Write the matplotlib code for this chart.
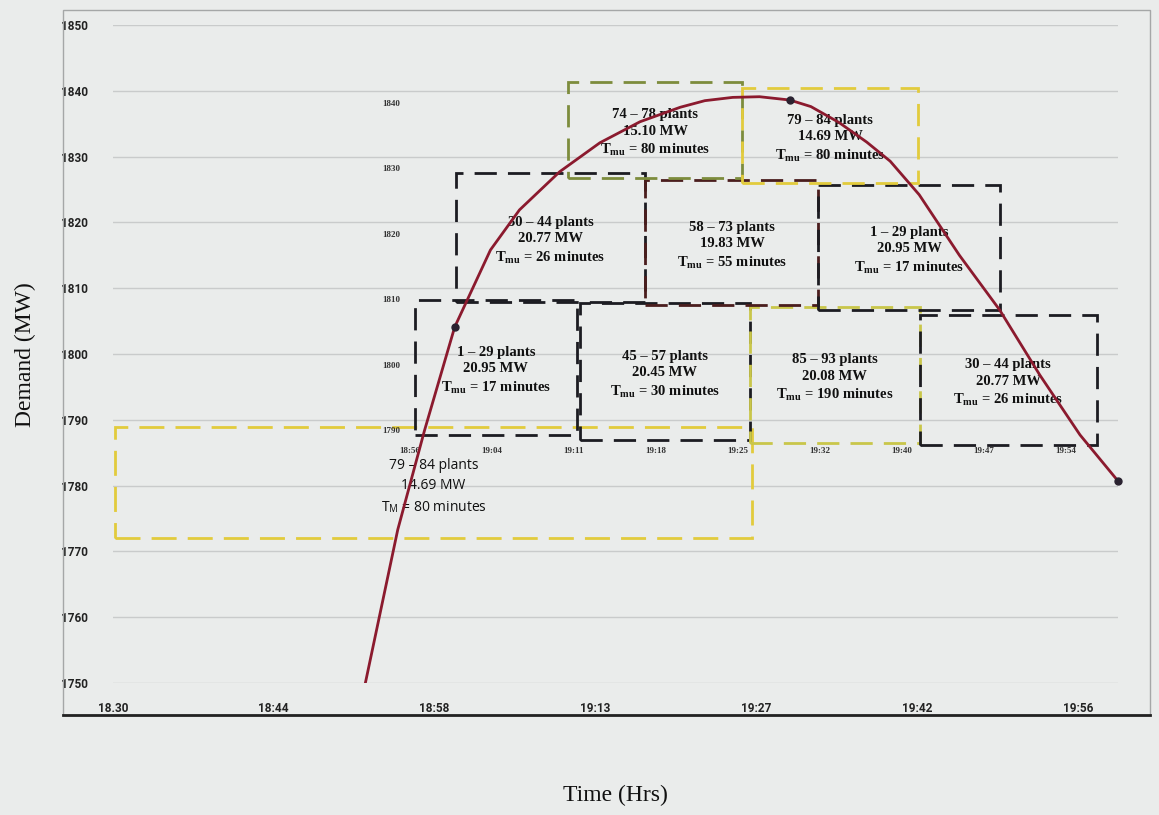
import matplotlib.pyplot as plt
from matplotlib.patches import Rectangle

plt.rcParams['mathtext.fontset'] = 'stix'

# main curve: minutes after 18:00 vs demand (MW)
TIME_MIN = [52.6, 55.5, 57.9, 60.6, 63.8, 66.4, 70.0, 73.6, 77.2, 80.8, 83.0, 85.5,
            87.9, 90.6, 92.5, 95.0, 97.5, 99.6, 102.2, 105.8, 109.4, 113.0, 116.6, 120.0]
DEMAND = [1750, 1773.3, 1788.4, 1804.1, 1815.8, 1821.9, 1827.7, 1832.1, 1835.3, 1837.5, 1838.5, 1839.0,
          1839.1, 1838.6, 1837.6, 1835.2, 1832.2, 1829.3, 1824.2, 1815.0, 1806.7, 1796.8, 1787.7, 1780.7]
MARKER_TIME = [60.6, 90.6, 120.0]
MARKER_DEMAND = [1804.1, 1838.6, 1780.7]

MAIN_XTICKS = [30, 44.4, 58.8, 73.2, 87.6, 102.0, 116.4]
MAIN_XLABELS = ['18.30', '18:44', '18:58', '19:13', '19:27', '19:42', '19:56']
MAIN_YTICKS = [1750, 1760, 1770, 1780, 1790, 1800, 1810, 1820, 1830, 1840, 1850]

# overlaid (zoomed) chart ticks
INSET_XTICKS = [56.9, 64.1, 71.3, 78.5, 85.7, 92.9, 100.1, 107.3, 114.5]
INSET_XLABELS = ['18:56', '19:04', '19:11', '19:18', '19:25', '19:32', '19:40', '19:47', '19:54']
INSET_YTICKS = [1790, 1800, 1810, 1820, 1830, 1840]

# plant group boxes (inset coordinates)
BOX_T0 = [57.3, 71.8, 86.8, 101.7, 60.9, 77.6, 92.8, 70.8, 86.1]
BOX_T1 = [71.6, 86.8, 101.7, 117.3, 77.6, 92.8, 108.8, 86.1, 101.6]
BOX_D0 = [1789.2, 1788.5, 1788.0, 1787.7, 1809.6, 1809.1, 1808.3, 1828.5, 1827.8]
BOX_D1 = [1809.9, 1809.4, 1808.8, 1807.6, 1829.3, 1828.2, 1827.5, 1843.2, 1842.3]
BOX_PLANTS = ['1 – 29', '45 – 57', '85 – 93', '30 – 44', '30 – 44', '58 – 73', '1 – 29', '74 – 78', '79 – 84']
BOX_MW = ['20.95', '20.45', '20.08', '20.77', '20.77', '19.83', '20.95', '15.10', '14.69']
BOX_TMU = ['17', '30', '190', '26', '26', '55', '17', '80', '80']
BOX_COLORS = ['#1c1c22', '#1c1c22', '#c9c64a', '#1c1c22', '#1c1c22', '#4a1d1d', '#1c1c22', '#7d8c3c', '#e2cb3c']

# big box in main coordinates
BIG_T = [30.2, 87.2]
BIG_D = [1772.0, 1788.9]
BIG_TEXT = ['79 – 84', '14.69', '80']

MAIN_RECT = [113 / 1159, 1 - 683 / 815, 1005 / 1159, 658 / 815]

fig = plt.figure(figsize=(11.59, 8.15), dpi=100)
fig.patch.set_facecolor('#eaeceb')

# chart border
fig.patches.append(Rectangle((63 / 1159, 1 - 715 / 815), 1087 / 1159, 705 / 815,
                             transform=fig.transFigure, fill=False,
                             edgecolor='#a5a7a7', linewidth=1.0))
fig.add_artist(plt.Line2D([63 / 1159, 1150 / 1159], [1 - 715 / 815, 1 - 715 / 815],
                          transform=fig.transFigure, color='#222222', linewidth=2))

ax = fig.add_axes(MAIN_RECT, zorder=1)
ax.patch.set_alpha(0)
ax2 = fig.add_axes([405.5 / 1159, 1 - 443 / 815, 710.9 / 1159, 372.7 / 815], zorder=2)
ax2.patch.set_alpha(0)
ax3 = fig.add_axes(MAIN_RECT, zorder=3)
ax3.patch.set_alpha(0)
ax3.axis('off')

# main chart
ax.set_xlim(30, 120)
ax.set_ylim(1750, 1850)
for yv in MAIN_YTICKS:
    ax.axhline(yv, color='#c9cbcb', linewidth=1, zorder=0)
ax.set_xticks(MAIN_XTICKS)
ax.set_xticklabels(MAIN_XLABELS)
ax.set_yticks(MAIN_YTICKS)
ax.tick_params(length=0, labelsize=8.5)
ax.tick_params(axis='y', pad=18)
ax.tick_params(axis='x', pad=14)
for lab in ax.get_xticklabels() + ax.get_yticklabels():
    lab.set_fontfamily('Roboto')
    lab.set_fontweight('bold')
    lab.set_color('#222222')
for s in ax.spines.values():
    s.set_visible(False)

ax.add_patch(Rectangle((BIG_T[0], BIG_D[0]), BIG_T[1] - BIG_T[0], BIG_D[1] - BIG_D[0],
                       fill=False, edgecolor='#e2cb3c', linewidth=2,
                       linestyle=(0, (9, 4)), zorder=3))
ax.text((BIG_T[0] + BIG_T[1]) / 2, (BIG_D[0] + BIG_D[1]) / 2 - 0.6,
        BIG_TEXT[0] + ' plants\n' + BIG_TEXT[1] + ' MW\nT$_{\\mathregular{M}}$ = ' + BIG_TEXT[2] + ' minutes',
        ha='center', va='center', fontsize=10, family='Open Sans', linespacing=1.5,
        color='#111111', zorder=4)

# curve on top
ax3.set_xlim(30, 120)
ax3.set_ylim(1750, 1850)
ax3.plot(TIME_MIN, DEMAND, color='#8b1a2e', linewidth=2)
ax3.plot(MARKER_TIME, MARKER_DEMAND, 'o', color='#2a2230', markersize=5, clip_on=False)

# overlaid chart with boxes
ax2.set_xlim(56.5, 119)
ax2.set_ylim(1788, 1845)
ax2.set_xticks(INSET_XTICKS)
ax2.set_xticklabels(INSET_XLABELS)
ax2.set_yticks(INSET_YTICKS)
ax2.tick_params(length=0, labelsize=6.5, colors='#333333')
ax2.tick_params(axis='x', pad=3)
ax2.tick_params(axis='y', pad=4)
for lab in ax2.get_xticklabels() + ax2.get_yticklabels():
    lab.set_fontfamily('Liberation Serif')
    lab.set_fontweight('bold')
for s in ax2.spines.values():
    s.set_visible(False)

for i in range(len(BOX_T0)):
    ax2.add_patch(Rectangle((BOX_T0[i], BOX_D0[i]), BOX_T1[i] - BOX_T0[i], BOX_D1[i] - BOX_D0[i],
                            fill=False, edgecolor=BOX_COLORS[i], linewidth=2,
                            linestyle=(0, (8, 4)), clip_on=False))
    ax2.text((BOX_T0[i] + BOX_T1[i]) / 2, (BOX_D0[i] + BOX_D1[i]) / 2 - 0.5,
             BOX_PLANTS[i] + ' plants\n' + BOX_MW[i] + ' MW\nT$_{\\mathregular{mu}}$ = ' + BOX_TMU[i] + ' minutes',
             ha='center', va='center', fontsize=10.5, family='Liberation Serif',
             fontweight='bold', linespacing=1.35, color='#111111')

fig.text(25 / 1159, 1 - 355 / 815, 'Demand (MW)', rotation=90, ha='center', va='center',
         fontsize=17, family='Liberation Serif', color='#111111')
fig.text(615 / 1159, 1 - 795 / 815, 'Time (Hrs)', ha='center', va='center',
         fontsize=17, family='Liberation Serif', color='#111111')

fig.savefig('out.png', facecolor=fig.get_facecolor())
